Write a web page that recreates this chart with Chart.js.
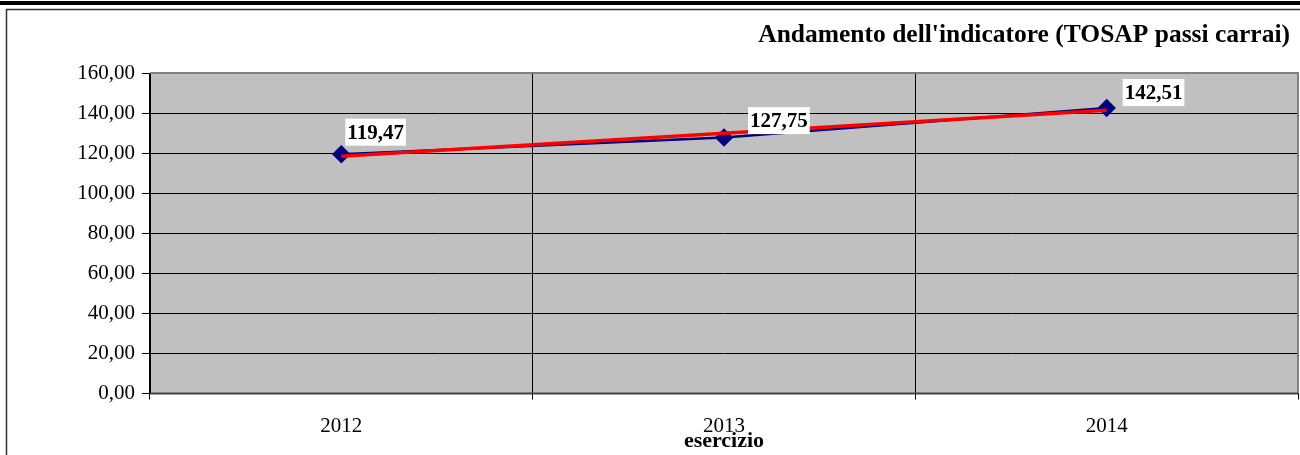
<!DOCTYPE html>
<html>
<head>
<meta charset="utf-8">
<script src="https://cdn.jsdelivr.net/npm/chart.js@4.4.0/dist/chart.umd.min.js"></script>
<style>
    html, body { margin: 0; padding: 0; background: #fff; }
    #wrap { width: 1300px; height: 455px; position: relative; }
</style>
</head>
<body>
<div id="wrap"><canvas id="chart"></canvas></div>
<script>
// values
const years = ['2012', '2013', '2014'];
const indicatorValues = [119.47, 127.75, 142.51];
const trendValues = [118.4, 129.9, 141.4];
const yMin = 0, yMax = 160, yStep = 20;
const chartTitle = "Andamento dell'indicatore (TOSAP passi carrai)";
const xTitle = 'esercizio';

const fmt = v => v.toFixed(2).replace('.', ',');
const SERIF = "'Liberation Serif', 'Times New Roman', serif";

// grey plot background + frame lines + texts
const decorPlugin = {
    id: 'decor',
    beforeDraw(chart) {
        const { ctx, chartArea: a } = chart;
        ctx.save();
        ctx.fillStyle = '#fff';
        ctx.fillRect(0, 0, chart.width, chart.height);
        // top double rule
        ctx.fillStyle = '#000';
        ctx.fillRect(0, 1, chart.width, 4);
        ctx.strokeStyle = '#333';
        ctx.lineWidth = 1.5;
        ctx.beginPath();
        ctx.moveTo(6.5, chart.height);
        ctx.lineTo(6.5, 9.5);
        ctx.lineTo(chart.width, 9.5);
        ctx.stroke();
        ctx.fillStyle = '#c0c0c0';
        ctx.fillRect(a.left, a.top, a.right - a.left, a.bottom - a.top);
        ctx.restore();
    },
    beforeDatasetsDraw(chart) {
        const { ctx, chartArea: a } = chart;
        ctx.save();
        ctx.strokeStyle = '#808080';
        ctx.lineWidth = 2;
        ctx.beginPath();
        ctx.moveTo(a.left, a.top);
        ctx.lineTo(a.right, a.top);
        ctx.lineTo(a.right, a.bottom);
        ctx.stroke();
        ctx.strokeStyle = '#404040';
        ctx.beginPath();
        ctx.moveTo(a.left, a.bottom);
        ctx.lineTo(a.right, a.bottom);
        ctx.stroke();
        ctx.restore();
    },
    afterDraw(chart) {
        const { ctx, chartArea: a } = chart;
        ctx.save();
        ctx.fillStyle = '#000';
        ctx.textBaseline = 'middle';
        ctx.font = 'bold 25.5px ' + SERIF;
        ctx.textAlign = 'right';
        ctx.fillText(chartTitle, 1290, 35);
        ctx.font = 'bold 22px ' + SERIF;
        ctx.textAlign = 'center';
        ctx.fillText(xTitle, (a.left + a.right) / 2, 441);
        ctx.restore();
    }
};

// white-boxed value labels next to the markers
const labelPlugin = {
    id: 'valueLabels',
    afterDatasetsDraw(chart, args, opts) {
        const { ctx } = chart;
        const meta = chart.getDatasetMeta(0);
        ctx.save();
        ctx.font = 'bold 21px ' + SERIF;
        ctx.textBaseline = 'middle';
        ctx.textAlign = 'left';
        meta.data.forEach((pt, i) => {
            const txt = fmt(indicatorValues[i]);
            const off = opts.offsets[i];
            const w = ctx.measureText(txt).width + 4;
            const x = pt.x + off.dx;
            const y = pt.y + off.dy;
            ctx.fillStyle = '#fff';
            ctx.fillRect(x, y - 13.5, w, 27);
            ctx.fillStyle = '#000';
            ctx.fillText(txt, x + 2, y + 1);
        });
        ctx.restore();
    }
};

const ctx = document.getElementById('chart').getContext('2d');
new Chart(ctx, {
    type: 'line',
    data: {
        labels: years,
        datasets: [{
            label: 'indicatore',
            data: indicatorValues,
            borderColor: '#000080',
            backgroundColor: '#000080',
            borderWidth: 2.5,
            pointStyle: 'rectRot',
            pointRadius: 7.5,
            pointHoverRadius: 7.5,
            tension: 0,
            order: 2
        }, {
            label: 'tendenza',
            data: trendValues,
            borderColor: '#ff0000',
            borderWidth: 3.5,
            pointRadius: 0,
            tension: 0,
            order: 1
        }]
    },
    options: {
        responsive: true,
        maintainAspectRatio: false,
        animation: false,
        layout: { autoPadding: false, padding: { top: 73, right: 2, left: 0, bottom: 0 } },
        plugins: {
            legend: { display: false },
            tooltip: { enabled: false },
            valueLabels: {
                offsets: [{ dx: 4, dy: -22 }, { dx: 24, dy: -17 }, { dx: 16, dy: -15.5 }]
            }
        },
        scales: {
            x: {
                offset: true,
                grid: { offset: true, color: '#000', lineWidth: 1, tickLength: 6 },
                border: { display: false },
                ticks: { color: '#000', font: { family: SERIF, size: 21 }, padding: 14, maxRotation: 0 },
                afterFit(scale) { scale.height = 61.5; }
            },
            y: {
                min: yMin,
                max: yMax,
                grid: { color: '#000', lineWidth: 1, tickLength: 8 },
                border: { color: '#000', width: 1 },
                ticks: {
                    stepSize: yStep,
                    color: '#000',
                    font: { family: SERIF, size: 21 },
                    padding: 7,
                    callback: v => fmt(v)
                },
                afterFit(scale) { scale.width = 150; }
            }
        }
    },
    plugins: [decorPlugin, labelPlugin]
});
</script>
</body>
</html>
